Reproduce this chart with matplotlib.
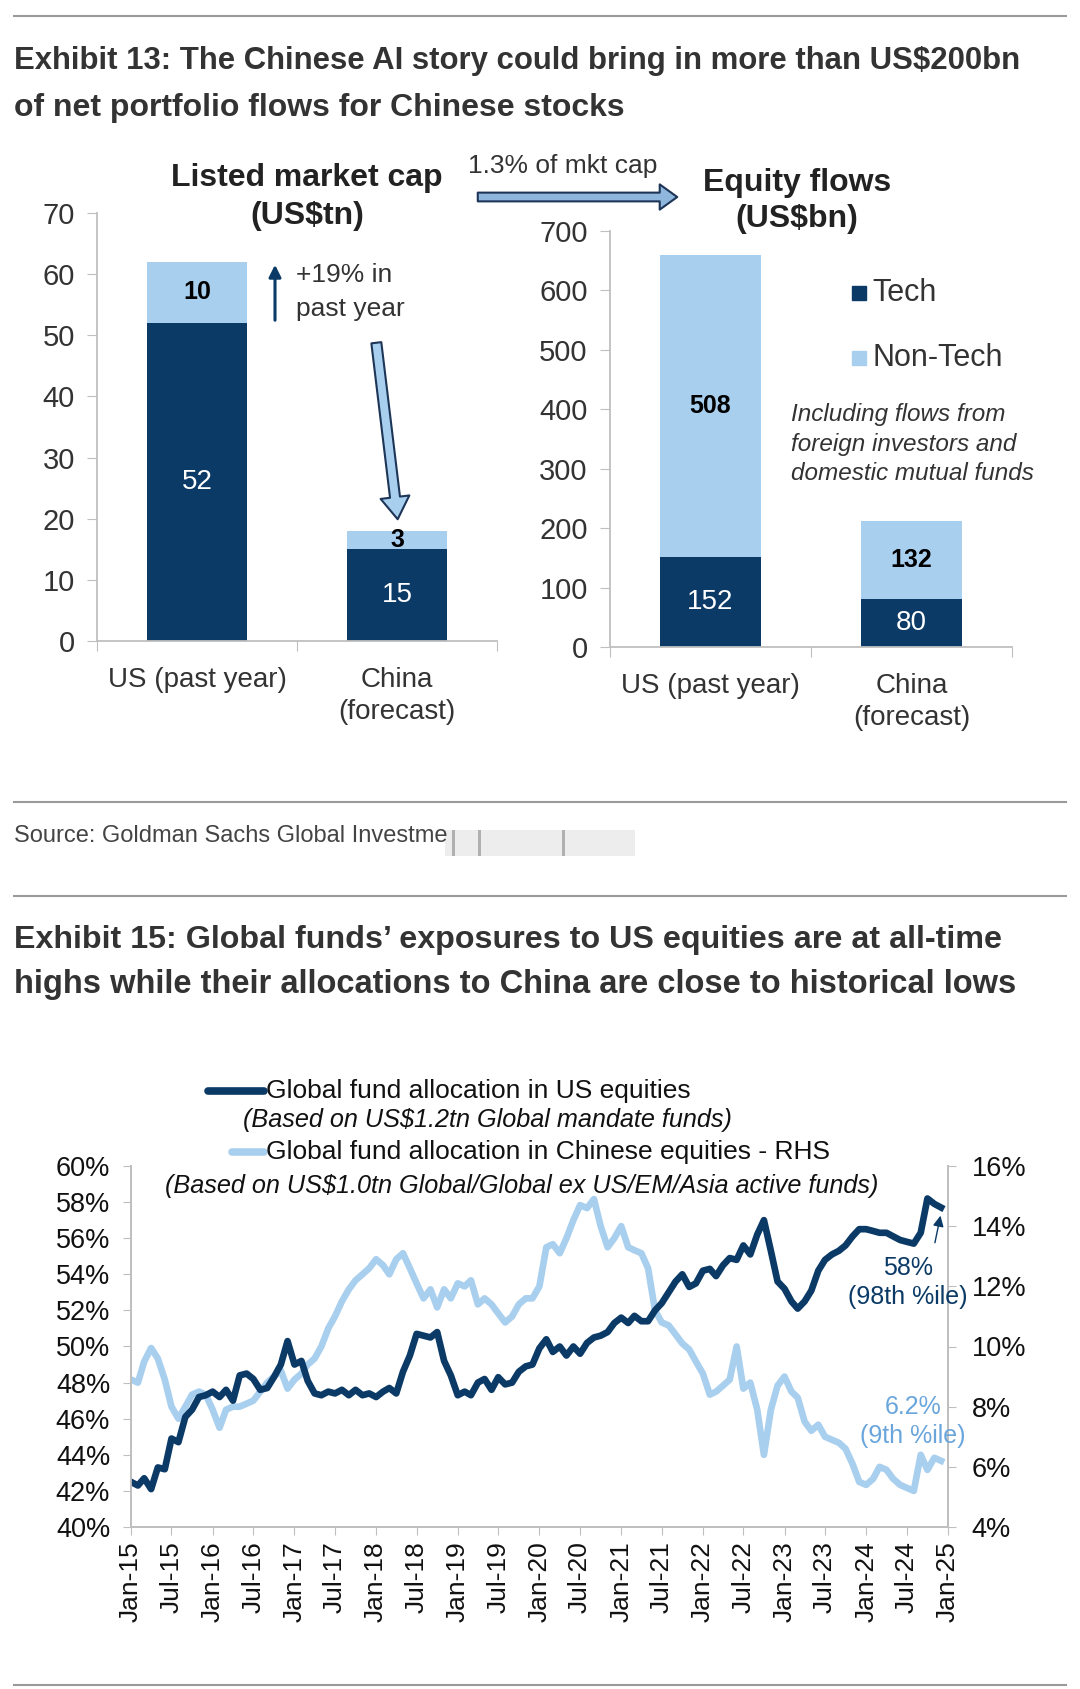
import numpy as np
import pandas as pd
import matplotlib
matplotlib.use('Agg')
import matplotlib.pyplot as plt
from matplotlib.patches import FancyArrowPatch, Rectangle

W, H = 1080, 1689
DARK = '#0b3a66'
LIGHT = '#a9cfef'
GRID = '#bfbfbf'
TXT = '#333333'

# Exhibit 13 data
cap_cats = ['US (past year)', 'China\n(forecast)']
cap_tech = [52, 15]
cap_nontech = [10, 3]
flow_cats = ['US (past year)', 'China\n(forecast)']
flow_tech = [152, 80]
flow_nontech = [508, 132]

# Exhibit 15 data (monthly, Jan-15 .. Dec-24)
us_alloc = [42.5, 42.3, 42.7, 42.1, 43.3, 43.2, 44.9, 44.7, 46.1, 46.5, 47.2, 47.3,
            47.5, 47.2, 47.6, 47.0, 48.4, 48.5, 48.2, 47.6, 47.7, 48.3, 49.0, 50.3,
            49.0, 49.2, 48.1, 47.4, 47.3, 47.5, 47.4, 47.6, 47.3, 47.6, 47.3, 47.4,
            47.2, 47.5, 47.7, 47.4, 48.6, 49.5, 50.7, 50.6, 50.5, 50.8, 49.2, 48.4,
            47.3, 47.5, 47.3, 48.0, 48.2, 47.6, 48.3, 47.9, 48.0, 48.6, 48.9, 49.0,
            49.9, 50.4, 49.7, 50.0, 49.5, 50.0, 49.6, 50.2, 50.5, 50.6, 50.8, 51.3,
            51.6, 51.3, 51.7, 51.4, 51.4, 52.0, 52.4, 53.0, 53.6, 54.0, 53.3, 53.5,
            54.2, 54.3, 53.9, 54.5, 54.9, 54.8, 55.6, 55.1, 56.2, 57.0, 55.3, 53.6,
            53.2, 52.5, 52.1, 52.5, 53.1, 54.2, 54.8, 55.1, 55.3, 55.6, 56.1, 56.5,
            56.5, 56.4, 56.3, 56.3, 56.1, 55.9, 55.8, 55.7, 56.3, 58.2, 57.9, 57.7]
cn_alloc = [8.9, 8.8, 9.5, 9.95, 9.6, 8.9, 8.0, 7.6, 8.0, 8.4, 8.5, 8.4,
            7.9, 7.3, 7.9, 8.0, 8.0, 8.1, 8.2, 8.5, 8.8, 9.0, 9.2, 8.6,
            8.9, 9.1, 9.4, 9.6, 10.0, 10.6, 11.0, 11.5, 11.9, 12.2, 12.4, 12.6,
            12.9, 12.7, 12.4, 12.9, 13.1, 12.6, 12.1, 11.6, 11.9, 11.3, 11.9, 11.6,
            12.1, 12.0, 12.2, 11.4, 11.6, 11.4, 11.1, 10.8, 11.0, 11.4, 11.6, 11.6,
            12.0, 13.3, 13.4, 13.1, 13.6, 14.2, 14.7, 14.6, 14.9, 14.0, 13.3, 13.6,
            14.0, 13.3, 13.2, 13.1, 12.6, 11.2, 10.8, 10.7, 10.4, 10.1, 9.9, 9.5,
            9.1, 8.4, 8.5, 8.7, 8.9, 10.0, 8.6, 8.8, 7.9, 6.4, 7.9, 8.7,
            9.0, 8.5, 8.3, 7.5, 7.2, 7.4, 7.0, 6.9, 6.8, 6.6, 6.1, 5.5,
            5.4, 5.6, 6.0, 5.9, 5.6, 5.4, 5.3, 5.2, 6.4, 5.9, 6.3, 6.2]
months = pd.date_range('2015-01-01', periods=len(us_alloc), freq='MS')

plt.rcParams['font.family'] = ['Liberation Sans', 'DejaVu Sans']
TITLE_SIZE = 23

fig = plt.figure(figsize=(W / 100, H / 100), dpi=100)


def px_axes(x0, y0, x1, y1):
    return fig.add_axes([x0 / W, 1 - y1 / H, (x1 - x0) / W, (y1 - y0) / H])


def ftext(x, y, s, **kw):
    return fig.text(x / W, 1 - y / H, s, **kw)


def hline(y, x0=14, x1=1066):
    fig.add_artist(plt.Line2D([x0 / W, x1 / W], [1 - y / H, 1 - y / H],
                              color='#9a9a9a', lw=1.5))


# separators and titles
hline(16)
ftext(14, 61, 'Exhibit 13: The Chinese AI story could bring in more than US$200bn',
      weight='bold', fontsize=TITLE_SIZE - 0.6, color='#333333', va='center')
ftext(14, 108, 'of net portfolio flows for Chinese stocks',
      weight='bold', fontsize=TITLE_SIZE, color='#333333', va='center')


def bar_panel(ax, cats, tech, nontech, ymax, step):
    x = np.arange(len(cats))
    ax.bar(x, tech, width=0.5, color=DARK)
    ax.bar(x, nontech, width=0.5, bottom=tech, color=LIGHT)
    ax.set_xlim(-0.5, 1.5)
    ax.set_ylim(0, ymax)
    ax.set_yticks(np.arange(0, ymax + 1, step))
    ax.set_xticks([-0.5, 0.5, 1.5])
    ax.set_xticklabels([])
    ax.set_xticks(x, minor=True)
    ax.set_xticklabels(cats, minor=True, fontsize=20, color=TXT, linespacing=1.3)
    ax.tick_params(axis='x', which='minor', length=0, pad=19)
    ax.tick_params(axis='x', which='major', length=7, color=GRID, direction='out')
    ax.tick_params(axis='y', length=7, color=GRID, labelsize=21, labelcolor=TXT, pad=9)
    for s in ['top', 'right']:
        ax.spines[s].set_visible(False)
    for s in ['left', 'bottom']:
        ax.spines[s].set_color(GRID)
        ax.spines[s].set_linewidth(1.3)
    ax.patch.set_alpha(0)
    return x


ax1 = px_axes(97, 213, 497, 641)
xs = bar_panel(ax1, cap_cats, cap_tech, cap_nontech, 70, 10)
for i in range(len(xs)):
    ax1.text(xs[i], cap_tech[i] / 2, str(cap_tech[i]), ha='center', va='center',
             color='white', fontsize=20)
    ax1.text(xs[i], cap_tech[i] + cap_nontech[i] / 2, str(cap_nontech[i]), ha='center',
             va='center', color='black', fontsize=18, weight='bold')

ax2 = px_axes(610, 231, 1012, 647)
xs = bar_panel(ax2, flow_cats, flow_tech, flow_nontech, 700, 100)
for i in range(len(xs)):
    ax2.text(xs[i], flow_tech[i] / 2, str(flow_tech[i]), ha='center', va='center',
             color='white', fontsize=20)
    ax2.text(xs[i], flow_tech[i] + flow_nontech[i] / 2, str(flow_nontech[i]),
             ha='center', va='center', color='black', fontsize=18, weight='bold')

# panel titles
ftext(307, 178, 'Listed market cap', ha='center', va='center', fontsize=23,
      weight='bold', color='#222222')
ftext(307, 216, '(US$tn)', ha='center', va='center', fontsize=23, weight='bold',
      color='#222222')
ftext(797, 183, 'Equity flows', ha='center', va='center', fontsize=23,
      weight='bold', color='#222222')
ftext(797, 219, '(US$bn)', ha='center', va='center', fontsize=23, weight='bold',
      color='#222222')

# annotations on exhibit 13
ftext(563, 166, '1.3% of mkt cap', ha='center', va='center', fontsize=19, color=TXT)
fig.add_artist(FancyArrowPatch((475 / W, 1 - 197 / H), (680 / W, 1 - 197 / H),
                               transform=fig.transFigure,
                               arrowstyle='simple,head_width=1.3,head_length=0.9,tail_width=0.45',
                               mutation_scale=14, fc='#8fb6dc', ec='#1d3557', lw=1.5))
fig.add_artist(FancyArrowPatch((275 / W, 1 - 323 / H), (275 / W, 1 - 262 / H),
                               transform=fig.transFigure, arrowstyle='-|>',
                               mutation_scale=18, color=DARK, lw=2.2))
ftext(296, 275, '+19% in', ha='left', va='center', fontsize=19, color=TXT)
ftext(296, 309, 'past year', ha='left', va='center', fontsize=19, color=TXT)
fig.add_artist(FancyArrowPatch((376 / W, 1 - 340 / H), (398 / W, 1 - 522 / H),
                               transform=fig.transFigure,
                               arrowstyle='simple,head_width=1.3,head_length=1.0,tail_width=0.45',
                               mutation_scale=16, fc=LIGHT, ec='#1d3557', lw=1.5))

# legend and note
fig.add_artist(Rectangle((852 / W, 1 - 300 / H), 14 / W, 14 / H, color=DARK,
                         transform=fig.transFigure))
ftext(872, 293, 'Tech', va='center', fontsize=22, color=TXT)
fig.add_artist(Rectangle((852 / W, 1 - 365 / H), 14 / W, 14 / H, color=LIGHT,
                         transform=fig.transFigure))
ftext(872, 358, 'Non-Tech', va='center', fontsize=22, color=TXT)
for j, line in enumerate(['Including flows from', 'foreign investors and',
                          'domestic mutual funds']):
    ftext(791, 415 + 29 * j, line, va='center', fontsize=17.5, style='italic', color=TXT)

hline(802)
ftext(14, 836, 'Source: Goldman Sachs Global Investme',
      fontsize=17, color='#444444', va='center')
fig.add_artist(Rectangle((445 / W, 1 - 856 / H), 190 / W, 26 / H, color='#ededed',
                         transform=fig.transFigure, lw=0))
for bx in [452, 478, 562]:
    fig.add_artist(Rectangle((bx / W, 1 - 856 / H), 3 / W, 26 / H, color='#b0b0b0',
                             transform=fig.transFigure, lw=0))
hline(896)
ftext(14, 940, 'Exhibit 15: Global funds\u2019 exposures to US equities are at all-time',
      weight='bold', fontsize=TITLE_SIZE + 0.2, color='#333333', va='center')
ftext(14, 985, 'highs while their allocations to China are close to historical lows',
      weight='bold', fontsize=TITLE_SIZE + 0.5, color='#333333', va='center')

# Exhibit 15 chart
ax3 = px_axes(131, 1166, 948, 1527)
ax4 = ax3.twinx()
ax4.plot(months, cn_alloc, color=LIGHT, lw=4.8, solid_joinstyle='round')
ax3.plot(months, us_alloc, color=DARK, lw=4.8, solid_joinstyle='round')
ax3.set_zorder(ax4.get_zorder() + 1)
ax3.patch.set_visible(False)
ax3.set_ylim(40, 60)
ax4.set_ylim(4, 16)
ax3.set_yticks(np.arange(40, 61, 2))
ax3.set_yticklabels([f'{v}%' for v in range(40, 61, 2)])
ax4.set_yticks(np.arange(4, 17, 2))
ax4.set_yticklabels([f'{v}%' for v in range(4, 17, 2)])
ax3.set_xlim(pd.Timestamp('2015-01-01'), pd.Timestamp('2025-01-01'))
ticks = pd.date_range('2015-01-01', '2025-01-01', freq='6MS')
ax3.set_xticks(ticks)
ax3.set_xticklabels([t.strftime('%b-%y') for t in ticks], rotation=90, fontsize=19,
                    color='#111111')
for a in (ax3, ax4):
    a.spines['top'].set_visible(False)
    for s in ['left', 'right', 'bottom']:
        a.spines[s].set_color(GRID)
        a.spines[s].set_linewidth(1.3)
ax3.tick_params(axis='y', length=6, color=GRID, labelsize=19.5, labelcolor='#111111',
                pad=9)
ax4.tick_params(axis='y', length=6, color=GRID, labelsize=19.5, labelcolor='#111111',
                pad=11)
ax3.tick_params(axis='x', length=6, color=GRID, pad=4)

# legend for exhibit 15
fig.add_artist(plt.Line2D([208 / W, 264 / W], [1 - 1091 / H, 1 - 1091 / H], color=DARK,
                          lw=5.5, solid_capstyle='round'))
ftext(266, 1091, 'Global fund allocation in US equities', va='center', fontsize=19,
      color='#111111')
ftext(487, 1120, '(Based on US$1.2tn Global mandate funds)', ha='center', va='center',
      fontsize=18.2, style='italic', color='#111111')
fig.add_artist(plt.Line2D([232 / W, 264 / W], [1 - 1152 / H, 1 - 1152 / H], color=LIGHT,
                          lw=5.5, solid_capstyle='round'))
ftext(266, 1152, 'Global fund allocation in Chinese equities - RHS', va='center',
      fontsize=19, color='#111111')
ftext(522, 1186, '(Based on US$1.0tn Global/Global ex US/EM/Asia active funds)',
      ha='center', va='center', fontsize=18.2, style='italic', color='#111111')

# end-point annotations
ax3.annotate('', xy=(months[-1], us_alloc[-1] - 0.3), xytext=(months[-2], 55.6),
             arrowprops=dict(arrowstyle='-|>', color=DARK, lw=1, mutation_scale=16))
ftext(908, 1268, '58%', ha='center', va='center', fontsize=18, color=DARK)
ftext(908, 1297, '(98th %ile)', ha='center', va='center', fontsize=18, color=DARK)
ftext(913, 1407, '6.2%', ha='center', va='center', fontsize=18, color='#6aa6dc')
ftext(913, 1436, '(9th %ile)', ha='center', va='center', fontsize=18, color='#6aa6dc')

hline(1685)

fig.savefig('out.png', dpi=100)
